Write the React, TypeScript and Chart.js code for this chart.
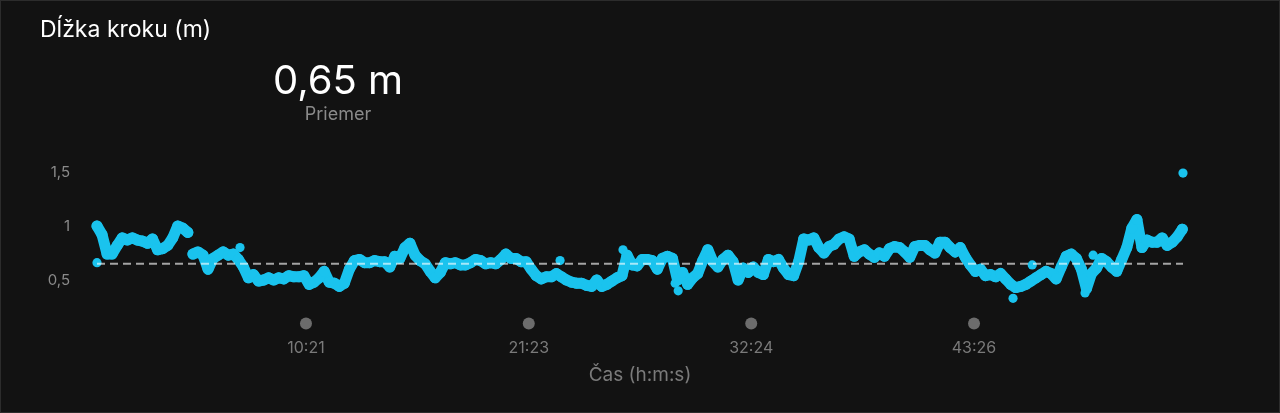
import React, { useEffect, useRef } from "react";
import { Chart, registerables } from "chart.js";

Chart.register(...registerables);

// Sampling step of the main series (seconds)
const STEP_S = 15;
// Stride length values (m), one every STEP_S seconds from 0:00
const VALUES = [
  1.0, 0.92, 0.74, 0.74, 0.82, 0.89, 0.87, 0.89, 0.87, 0.86,
  0.84, 0.88, 0.78, 0.79, 0.82, 0.89, 1.0, 0.98, 0.94, 0.74,
  0.76, 0.73, 0.6, 0.7, 0.73, 0.76, 0.73, 0.74, 0.69, 0.62,
  0.52, 0.55, 0.49, 0.5, 0.52, 0.5, 0.52, 0.51, 0.54, 0.53,
  0.53, 0.54, 0.46, 0.48, 0.52, 0.58, 0.48, 0.47, 0.44, 0.47,
  0.6, 0.68, 0.69, 0.66, 0.66, 0.68, 0.67, 0.67, 0.62, 0.72,
  0.7, 0.8, 0.84, 0.73, 0.68, 0.65, 0.58, 0.52, 0.57, 0.66,
  0.65, 0.66, 0.64, 0.64, 0.66, 0.69, 0.68, 0.65, 0.66, 0.65,
  0.69, 0.74, 0.7, 0.7, 0.67, 0.67, 0.6, 0.54, 0.51, 0.53,
  0.53, 0.56, 0.53, 0.5, 0.48, 0.47, 0.47, 0.45, 0.44, 0.5,
  0.44, 0.46, 0.49, 0.52, 0.54, 0.73, 0.64, 0.63, 0.69, 0.69,
  0.68, 0.6, 0.7, 0.72, 0.7, 0.5, 0.57, 0.46, 0.52, 0.56,
  0.68, 0.78, 0.67, 0.62, 0.69, 0.73, 0.67, 0.5, 0.61, 0.57,
  0.62, 0.57, 0.55, 0.69, 0.67, 0.69, 0.61, 0.55, 0.54, 0.67,
  0.88, 0.87, 0.89, 0.8, 0.75, 0.81, 0.83, 0.88, 0.9, 0.88,
  0.72, 0.76, 0.78, 0.74, 0.71, 0.75, 0.72, 0.79, 0.81, 0.8,
  0.76, 0.71, 0.81, 0.82, 0.82, 0.78, 0.75, 0.85, 0.85, 0.8,
  0.76, 0.8, 0.71, 0.64, 0.58, 0.6, 0.54, 0.55, 0.53, 0.56,
  0.51, 0.46, 0.43, 0.44, 0.46, 0.49, 0.52, 0.55, 0.58, 0.56,
  0.51, 0.62, 0.72, 0.74, 0.7, 0.6, 0.42, 0.56, 0.61, 0.7,
  0.67, 0.62, 0.58, 0.69, 0.8, 0.98, 1.06, 0.8, 0.87, 0.85,
  0.85, 0.89, 0.82, 0.85, 0.9, 0.97,
];
// Index after which the recorded trace has a visible gap
const BREAK_AFTER = [18];
// Isolated readings: [seconds, metres]
const EXTRA_POINTS: [number, number][] = [
  [0, 0.66], [425, 0.8], [1376, 0.68], [1563, 0.78], [1718, 0.47],
  [1727, 0.4], [2722, 0.33], [2779, 0.64], [2936, 0.38], [2960, 0.73],
  [3227, 1.49],
];
const END_S = 3227;
const AVERAGE = 0.65;

const X_TICKS = [621, 1283, 1944, 2606];
const X_TICK_LABELS = ["10:21", "21:23", "32:24", "43:26"];
const Y_TICKS = [0.5, 1, 1.5];
const Y_TICK_LABELS = ["0,5", "1", "1,5"];

const FONT = "Inter, 'Noto Sans', sans-serif";
const CYAN = "#1ac3ee";

const tickDots = {
  id: "tickDots",
  afterDraw(chart: any) {
    const xs = chart.scales.x;
    const ctx = chart.ctx;
    ctx.save();
    ctx.fillStyle = "#6c6c6c";
    xs.ticks.forEach((t: any) => {
      const px = xs.getPixelForValue(t.value);
      ctx.beginPath();
      ctx.arc(px, xs.top + 22, 6, 0, Math.PI * 2);
      ctx.fill();
    });
    ctx.restore();
  },
};

export default function App() {
  const ref = useRef<HTMLCanvasElement | null>(null);

  useEffect(() => {
    if (!ref.current) return;
    const mainPoints = VALUES.map((v, i) => ({ x: i * STEP_S, y: v }));
    const extraPoints = EXTRA_POINTS.map(([t, v]) => ({ x: t, y: v }));
    const chart = new Chart(ref.current, {
      type: "scatter",
      data: {
        datasets: [
          {
            type: "line",
            data: [
              { x: 0, y: AVERAGE },
              { x: END_S, y: AVERAGE },
            ],
            borderColor: "rgba(255,255,255,0.62)",
            borderWidth: 2,
            borderDash: [8, 5],
            pointRadius: 0,
            fill: false,
            clip: false,
            order: 0,
          } as any,
          {
            type: "line",
            data: mainPoints,
            backgroundColor: CYAN,
            borderColor: CYAN,
            borderWidth: 11,
            borderCapStyle: "round",
            borderJoinStyle: "round",
            tension: 0,
            fill: false,
            pointBorderWidth: 0,
            pointRadius: 5.5,
            pointHoverRadius: 5.5,
            segment: {
              borderColor: (c: any) =>
                BREAK_AFTER.includes(c.p0DataIndex) ? "rgba(0,0,0,0)" : CYAN,
            },
            clip: false,
            order: 1,
          } as any,
          {
            data: extraPoints,
            backgroundColor: CYAN,
            borderWidth: 0,
            pointRadius: 4.6,
            pointHoverRadius: 4.6,
            clip: false,
            order: 2,
          } as any,
        ],
      },
      options: {
        animation: false,
        responsive: false,
        maintainAspectRatio: false,
        events: [],
        layout: { padding: { left: 0, right: 97, top: 172, bottom: 21.4 } },
        plugins: { legend: { display: false }, tooltip: { enabled: false } },
        scales: {
          x: {
            type: "linear",
            min: 0,
            max: END_S,
            grid: { display: false, drawTicks: false },
            border: { display: false },
            afterBuildTicks: (s: any) => {
              s.ticks = X_TICKS.map((v) => ({ value: v }));
            },
            afterFit: (s: any) => {
              s.height = 90;
            },
            ticks: {
              padding: 37,
              color: "#7a7a7a",
              font: { family: FONT, size: 16 },
              maxRotation: 0,
              callback: (_v: any, i: number) => X_TICK_LABELS[i],
            },
            title: {
              display: true,
              text: "Čas (h:m:s)",
              color: "#7a7a7a",
              font: { family: FONT, size: 19 },
              padding: { top: 5, bottom: 5 },
            },
          },
          y: {
            type: "linear",
            min: 0.3,
            max: 1.5,
            grid: { display: false, drawTicks: false },
            border: { display: false },
            afterBuildTicks: (s: any) => {
              s.ticks = Y_TICKS.map((v) => ({ value: v }));
            },
            afterFit: (s: any) => {
              s.width = 97;
            },
            ticks: {
              padding: 27,
              color: "#8a8a8a",
              font: { family: FONT, size: 15 },
              callback: (_v: any, i: number) => Y_TICK_LABELS[i],
            },
          },
        },
      },
      plugins: [tickDots],
    });
    return () => chart.destroy();
  }, []);

  return (
    <div
      style={{
        position: "fixed",
        left: 0,
        top: 0,
        width: 1280,
        height: 413,
        background: "#121212",
        fontFamily: FONT,
      }}
    >
      <canvas ref={ref} width={1280} height={413} style={{ position: "absolute", left: 0, top: 0 }} />
      <div
        style={{
          position: "absolute",
          left: 0,
          top: 0,
          width: 1280,
          height: 413,
          boxSizing: "border-box",
          border: "1px solid #2c2c2c",
          pointerEvents: "none",
        }}
      />
      <div style={{ position: "absolute", left: 40, top: 14, fontSize: 23, color: "#ffffff", lineHeight: "30px" }}>
        Dĺžka kroku (m)
      </div>
      <div
        style={{
          position: "absolute",
          left: 238,
          width: 200,
          top: 56,
          textAlign: "center",
          fontSize: 40,
          color: "#ffffff",
          lineHeight: "48px",
        }}
      >
        0,65 m
      </div>
      <div
        style={{
          position: "absolute",
          left: 238,
          width: 200,
          top: 103,
          textAlign: "center",
          fontSize: 18,
          color: "#8a8a8a",
          lineHeight: "22px",
        }}
      >
        Priemer
      </div>
    </div>
  );
}
